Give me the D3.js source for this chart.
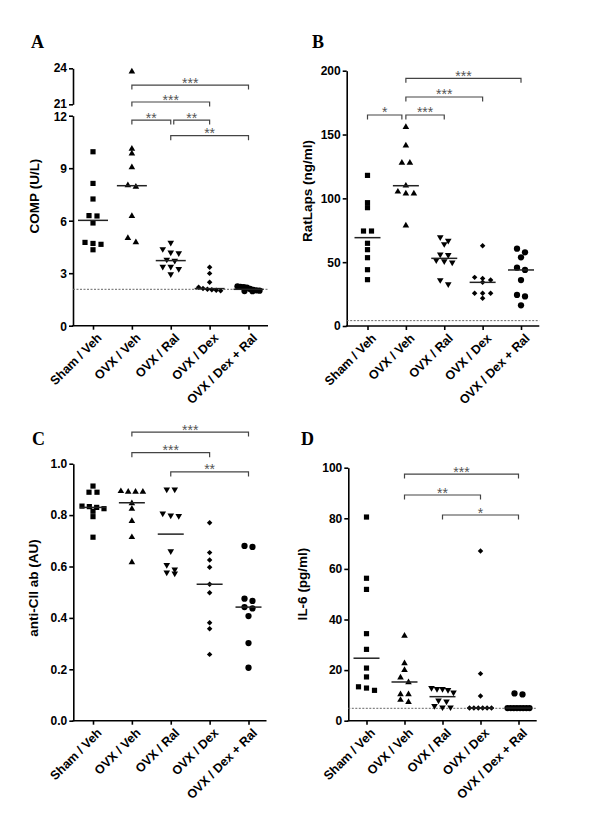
<!DOCTYPE html>
<html><head><meta charset="utf-8">
<script src="https://cdn.jsdelivr.net/npm/d3@7"></script>
<style>body{margin:0;background:#fff}</style>
</head><body><svg id="c" width="600" height="830"></svg>
<script>
// ---------- DATA ----------
const categories = ["Sham / Veh", "OVX / Veh", "OVX / Ral", "OVX / Dex", "OVX / Dex + Ral"];
const shapes = ["square", "triangle", "triangleDown", "diamond", "circle"];

// Panel A: COMP (U/L)
const compValues = [
  [9.94, 8.13, 7.24, 6.29, 6.27, 5.87, 4.76, 4.70, 4.65, 4.34],
  [23.72, 10.11, 9.83, 9.05, 8.02, 7.94, 6.27, 5.01, 4.76],
  [4.74, 4.38, 4.19, 4.15, 3.78, 3.72, 3.37, 3.37, 3.24, 2.95],
  [3.34, 2.99, 2.48, 2.20, 2.12, 2.08, 2.05, 2.02, 2.00],
  [2.25, 2.22, 2.20, 2.18, 2.10, 2.05, 2.02, 2.00, 1.98, 1.97]
];
const compMedians = [6.02, 8.0, 3.72, 2.12, 2.08];
const compLowerTicks = [0, 3, 6, 9, 12];
const compUpperTicks = [21, 24];
const compLimit = 2.08;
const compBrackets = [
  {a: 1, b: 4, label: "***", y: 22.6},
  {a: 1, b: 3, label: "***", y: 21.19},
  {a: 1, b: 2, label: "**", y: 11.75},
  {a: 2, b: 3, label: "**", y: 11.75, shiftA: 3},
  {a: 2, b: 4, label: "**", y: 10.86}
];

// Panel B: RatLaps (ng/ml)
const ratValues = [
  [118, 96.6, 92.7, 74.4, 74.4, 64.8, 59.8, 53.5, 44.1, 36.3],
  [155.9, 141.3, 127.9, 127.9, 109.9, 105.2, 103.7, 103.7, 78.6],
  [69.5, 66.8, 64.2, 56.1, 55.6, 51.5, 50.8, 49.9, 36.0, 32.7],
  [62.9, 38.1, 37.3, 36.0, 34.2, 25.6, 25.6, 25.6, 21.7],
  [60.6, 57.7, 53.8, 45.7, 43.9, 36.0, 24.3, 23.2, 16.2]
];
const ratMedians = [69.2, 109.9, 53.0, 34.2, 43.9];
const ratTicks = [0, 50, 100, 150, 200];
const ratLimit = 4.2;
const ratBrackets = [
  {a: 1, b: 4, label: "***", y: 194},
  {a: 1, b: 3, label: "***", y: 179.4},
  {a: 0, b: 1, label: "*", y: 165.3, shiftB: -4},
  {a: 1, b: 2, label: "***", y: 165.3}
];

// Panel C: anti-CII ab (AU)
const ciiValues = [
  [0.913, 0.889, 0.889, 0.835, 0.833, 0.830, 0.825, 0.815, 0.794, 0.714],
  [0.893, 0.891, 0.891, 0.891, 0.846, 0.824, 0.777, 0.714, 0.616],
  [0.900, 0.900, 0.807, 0.799, 0.797, 0.660, 0.606, 0.589, 0.577, 0.573],
  [0.770, 0.654, 0.625, 0.597, 0.531, 0.498, 0.381, 0.358, 0.258],
  [0.680, 0.676, 0.475, 0.466, 0.442, 0.437, 0.407, 0.302, 0.206]
];
const ciiMedians = [0.830, 0.848, 0.726, 0.531, 0.442];
const ciiTicks = [0.0, 0.2, 0.4, 0.6, 0.8, 1.0];
const ciiBrackets = [
  {a: 1, b: 4, label: "***", y: 1.123},
  {a: 1, b: 3, label: "***", y: 1.043},
  {a: 2, b: 4, label: "**", y: 0.968}
];

// Panel D: IL-6 (pg/ml)
const il6Values = [
  [80.5, 56.3, 51.9, 34.4, 28.2, 20.8, 17.3, 13.4, 12.9, 12.0],
  [33.5, 22.7, 20.0, 17.0, 15.2, 10.4, 10.4, 8.2, 7.4],
  [13.0, 12.6, 12.6, 12.2, 11.2, 8.0, 7.6, 5.8, 5.3, 5.3],
  [67.1, 18.6, 9.8, 5.0, 5.0, 5.0, 5.0, 5.0, 5.0],
  [10.8, 10.4, 5.0, 5.0, 5.0, 5.0, 5.0, 5.0, 5.0, 5.0]
];
const il6Medians = [24.7, 15.3, 9.5, 5.0, 5.0];
const il6Ticks = [0, 20, 40, 60, 80, 100];
const il6Limit = 4.9;
const il6Brackets = [
  {a: 1, b: 4, label: "***", y: 97.5},
  {a: 1, b: 3, label: "**", y: 89.2},
  {a: 2, b: 4, label: "*", y: 81.3}
];

// ---------- DRAWING ----------
const svg = d3.select("#c");
const FONT = "Arial, 'Liberation Sans', Helvetica, sans-serif";

function symbolFor(shape) {
  switch (shape) {
    case "square": return d3.symbol(d3.symbolSquare, 27)();
    case "triangle": return d3.symbol(d3.symbolTriangle, 19)();
    case "triangleDown": return d3.symbol(d3.symbolTriangle, 19)();
    case "diamond": return d3.symbol(d3.symbolDiamond2, 19)();
    default: return d3.symbol(d3.symbolCircle, 31)();
  }
}

// arrange points of one group into rows and spread them horizontally
function swarm(vals, y) {
  const pts = vals.map(v => ({v, py: y(v)})).sort((a, b) => a.py - b.py);
  const rows = [];
  pts.forEach(p => {
    const last = rows[rows.length - 1];
    if (last && p.py - last[0].py < 4.6) last.push(p); else rows.push([p]);
  });
  rows.forEach(r => {
    const n = r.length;
    const sp = n > 1 ? Math.min(8, 22 / (n - 1)) : 0;
    r.forEach((p, i) => p.off = (i - (n - 1) / 2) * sp);
  });
  return pts;
}

function drawPanel(cfg) {
  const g = svg.append("g");
  const x = d3.scalePoint().domain(categories).range(cfg.xRange);
  const y = cfg.y;

  // y axes
  cfg.yAxes.forEach(ax => {
    const a = g.append("g").attr("transform", `translate(${cfg.x0},0)`)
      .call(d3.axisLeft(ax.scale).tickValues(ax.ticks).tickSize(4).tickSizeOuter(0).tickPadding(2)
        .tickFormat(ax.fmt || d3.format("d")));
    a.select(".domain").attr("stroke", "#000").attr("stroke-width", 1.6);
    a.selectAll(".tick line").attr("stroke", "#000").attr("stroke-width", 1.6);
    a.selectAll(".tick text").attr("font-family", FONT).attr("font-weight", "bold")
      .attr("font-size", 12).attr("fill", "#000");
    if (ax.dy) a.selectAll(".tick text").attr("dy", ax.dy);
  });

  // x axis
  const xa = g.append("g").attr("transform", `translate(0,${cfg.y0})`)
    .call(d3.axisBottom(x).tickSize(4).tickSizeOuter(0));
  xa.select(".domain").remove();
  xa.selectAll(".tick line").attr("stroke", "#000").attr("stroke-width", 1.6);
  xa.selectAll(".tick text").attr("font-family", FONT).attr("font-weight", "bold")
    .attr("font-size", 12.5).attr("fill", "#000")
    .attr("text-anchor", "end").attr("y", 0).attr("dy", 0)
    .attr("transform", "translate(9,13) rotate(-45)");
  g.append("line").attr("x1", cfg.x0 - 0.8).attr("x2", cfg.x1).attr("y1", cfg.y0).attr("y2", cfg.y0)
    .attr("stroke", "#000").attr("stroke-width", 1.6);

  // detection limit
  if (cfg.limit != null) {
    g.append("line").attr("x1", cfg.x0).attr("x2", cfg.x1)
      .attr("y1", y(cfg.limit)).attr("y2", y(cfg.limit))
      .attr("stroke", "#666").attr("stroke-width", 1).attr("stroke-dasharray", "2,1.5");
  }

  // points
  cfg.values.forEach((vals, gi) => {
    const cx = x(categories[gi]);
    const pts = swarm(vals, y);
    const rot = shapes[gi] === "triangleDown" ? " rotate(180)" : "";
    g.append("g").selectAll("path").data(pts).join("path")
      .attr("d", symbolFor(shapes[gi]))
      .attr("transform", d => `translate(${cx + d.off},${d.py})${rot}`)
      .attr("fill", "#000");
    // median
    g.append("line").attr("x1", cx - cfg.medW / 2).attr("x2", cx + cfg.medW / 2)
      .attr("y1", y(cfg.medians[gi])).attr("y2", y(cfg.medians[gi]))
      .attr("stroke", "#222").attr("stroke-width", 1.5);
  });

  // brackets
  cfg.brackets.forEach(b => {
    const xa_ = x(categories[b.a]) + (b.shiftA || 0);
    const xb_ = x(categories[b.b]) + (b.shiftB || 0);
    const by = y(b.y);
    g.append("path").attr("d", `M${xa_},${by + 4.5}V${by}H${xb_}V${by + 4.5}`)
      .attr("fill", "none").attr("stroke", "#444").attr("stroke-width", 1.2);
    g.append("text").attr("x", (xa_ + xb_) / 2).attr("y", by + 2.5)
      .attr("text-anchor", "middle").attr("font-family", FONT).attr("font-size", 14)
      .attr("fill", "#555").text(b.label);
  });

  // y title
  g.append("text").attr("transform", `translate(${cfg.tx},${cfg.ty}) rotate(-90)`)
    .attr("text-anchor", "middle").attr("font-family", FONT).attr("font-weight", "bold")
    .attr("font-size", 13.5).attr("fill", "#000").text(cfg.title);

  // panel letter
  g.append("text").attr("x", cfg.lx).attr("y", cfg.ly)
    .attr("font-family", "'Liberation Serif', 'Times New Roman', serif").attr("font-weight", "bold")
    .attr("font-size", 18).attr("fill", "#000").text(cfg.letter);
}

// Panel A: broken axis
const compLow = d3.scaleLinear().domain([0, 12]).range([325.7, 115.7]);
const compHigh = d3.scaleLinear().domain([21, 24]).range([104.3, 68.3]);
const compY = v => v > 16 ? compHigh(v) : compLow(v);

drawPanel({
  values: compValues, medians: compMedians, y: compY,
  yAxes: [{scale: compLow, ticks: compLowerTicks, dy: "0.38em"}, {scale: compHigh, ticks: compUpperTicks, dy: "0.28em"}],
  x0: 73, x1: 268, y0: 325.7, xRange: [93, 248.5], limit: compLimit,
  brackets: compBrackets, medW: 30, title: "COMP (U/L)", tx: 39, ty: 196,
  letter: "A", lx: 31, ly: 48
});

const ratY = d3.scaleLinear().domain([0, 200]).range([326, 70.7]);
drawPanel({
  values: ratValues, medians: ratMedians, y: ratY,
  yAxes: [{scale: ratY, ticks: ratTicks}],
  x0: 346.7, x1: 539.3, y0: 326, xRange: [367.5, 521], limit: ratLimit,
  brackets: ratBrackets, medW: 26, title: "RatLaps (ng/ml)", tx: 312, ty: 191,
  letter: "B", lx: 312, ly: 48
});

const ciiY = d3.scaleLinear().domain([0, 1]).range([720.7, 463.7]);
drawPanel({
  values: ciiValues, medians: ciiMedians, y: ciiY,
  yAxes: [{scale: ciiY, ticks: ciiTicks, fmt: d3.format(".1f")}],
  x0: 73.3, x1: 266.5, y0: 720.7, xRange: [93, 248.5], limit: null,
  brackets: ciiBrackets, medW: 26, title: "anti-CII ab (AU)", tx: 37.5, ty: 588,
  letter: "C", lx: 32, ly: 445
});

const il6Y = d3.scaleLinear().domain([0, 100]).range([720.7, 467.7]);
drawPanel({
  values: il6Values, medians: il6Medians, y: il6Y,
  yAxes: [{scale: il6Y, ticks: il6Ticks}],
  x0: 348.3, x1: 536.7, y0: 720.7, xRange: [366.5, 518.5], limit: il6Limit,
  brackets: il6Brackets, medW: 26, title: "IL-6 (pg/ml)", tx: 307, ty: 584,
  letter: "D", lx: 301, ly: 445
});
</script></body></html>
